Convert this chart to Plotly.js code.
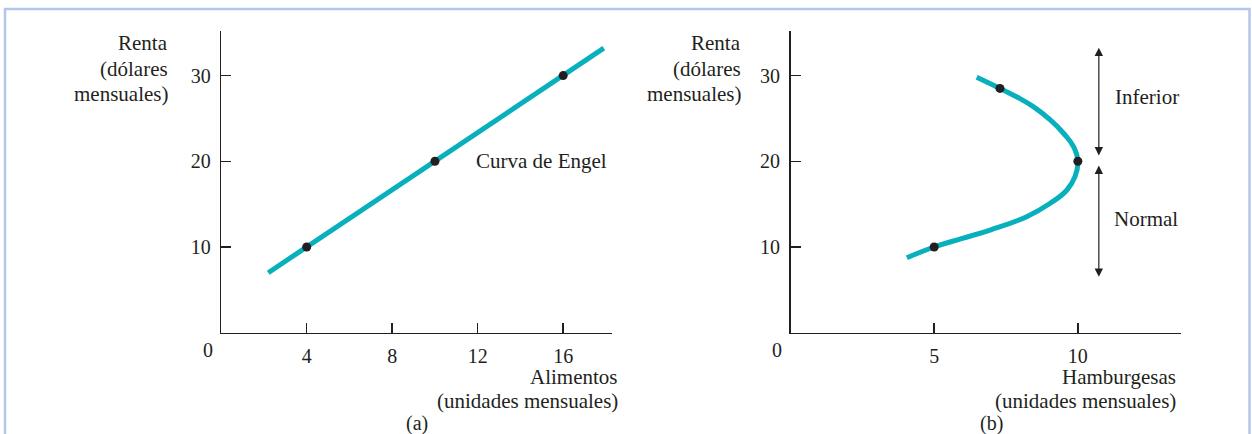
<!DOCTYPE html>
<html>
<head>
<meta charset="utf-8">
<script src="https://cdn.plot.ly/plotly-3.0.1.min.js"></script>
<style>
  body { margin: 0; background: #fff; }
  #myDiv { width: 1252px; height: 434px; }
</style>
</head>
<body>
<div id="myDiv"></div>
<script>
// (a) Curva de Engel - alimentos
var foodLineX = [2.2, 17.9];
var foodLineY = [7, 33.2];
var foodPtsX = [4, 10, 16];
var foodPtsY = [10, 20, 30];

// (b) hamburguesas (bien inferior a partir de 20)
var burgerX = [4.05, 5.0, 5.98, 6.95, 8.22, 9.04, 9.62, 9.9, 10.0, 9.85, 9.5, 9.04, 8.45, 7.88, 7.29, 6.48];
var burgerY = [8.75, 10.0, 11.0, 11.98, 13.54, 15.1, 16.65, 18.2, 20.0, 21.7, 23.27, 24.82, 26.37, 27.5, 28.5, 29.8];
var burgerPtsX = [5, 10, 7.29];
var burgerPtsY = [10, 20, 28.5];

var foodTicks = [4, 8, 12, 16];
var burgerTicks = [5, 10];
var rentTicks = [10, 20, 30];

var rentTitle = ['Renta', '(dólares', 'mensuales)'];
var foodTitle = ['Alimentos', '(unidades mensuales)'];
var burgerTitle = ['Hamburgesas', '(unidades mensuales)'];

var teal = '#07b0bc';
var ink = '#231f20';
var serif = 'Liberation Serif, Times New Roman, serif';

var trace1 = {
  x: foodLineX, y: foodLineY,
  mode: 'lines', line: {color: teal, width: 5},
  xaxis: 'x', yaxis: 'y', hoverinfo: 'skip'
};
var trace2 = {
  x: foodPtsX, y: foodPtsY,
  mode: 'markers', marker: {color: ink, size: 9},
  xaxis: 'x', yaxis: 'y'
};
var trace3 = {
  x: burgerX, y: burgerY,
  mode: 'lines', line: {color: teal, width: 5, shape: 'spline', smoothing: 1.3},
  xaxis: 'x2', yaxis: 'y2', hoverinfo: 'skip'
};
var trace4 = {
  x: burgerPtsX, y: burgerPtsY,
  mode: 'markers', marker: {color: ink, size: 9},
  xaxis: 'x2', yaxis: 'y2'
};

var data = [trace1, trace2, trace3, trace4];

function axis(domain, range, ticks, anchor) {
  return {
    domain: domain,
    range: range,
    anchor: anchor,
    tickmode: 'array',
    tickvals: ticks,
    ticks: 'inside',
    ticklen: 10,
    tickwidth: 1.5,
    tickcolor: ink,
    showline: true,
    linecolor: ink,
    linewidth: 1.5,
    showgrid: false,
    zeroline: false,
    ticklabelstandoff: 5,
    tickfont: {family: serif, size: 20, color: ink}
  };
}

var ydom = [0.2334, 0.9286];

function label(text, x, y, xref, yref, xanchor, size) {
  return {
    text: text, x: x, y: y, xref: xref, yref: yref,
    xanchor: xanchor || 'left', yanchor: 'middle', align: xanchor || 'left',
    showarrow: false,
    font: {family: serif, size: size || 21, color: ink}
  };
}

// multi-line titles, one annotation per line (tighter line spacing)
function stacked(lines, xpx, ypxs) {
  return lines.map(function (t, i) {
    return label(t, xpx / 1252, 1 - ypxs[i] / 434, 'paper', 'paper', 'right');
  });
}

var annotations = []
  .concat(stacked(rentTitle, 169.5, [43, 69, 94]))
  .concat(stacked(foodTitle, 620, [377, 401]))
  .concat(stacked(rentTitle, 742.5, [43, 69, 94]))
  .concat(stacked(burgerTitle, 1178, [377, 401]))
  .concat([
    label('0', 207.5 / 1252, 1 - 350 / 434, 'paper', 'paper', 'center', 20),
    label('(a)', 417 / 1252, 1 - 423 / 434, 'paper', 'paper', 'center', 20),
    label('Curva de Engel', 11.84, 20, 'x', 'y', 'left'),
    label('0', 776.5 / 1252, 1 - 350 / 434, 'paper', 'paper', 'center', 20),
    label('(b)', 991 / 1252, 1 - 423 / 434, 'paper', 'paper', 'center', 20),
    label('Inferior', 11.22, 27.5, 'x2', 'y2', 'left'),
    label('Normal', 11.2, 13.3, 'x2', 'y2', 'left'),
    {x: 10.73, y: 33.25, ax: 10.73, ay: 20.5, xref: 'x2', yref: 'y2', axref: 'x2', ayref: 'y2',
     text: '', showarrow: true, arrowside: 'end+start', arrowhead: 2, arrowsize: 1.4,
     arrowwidth: 1.2, arrowcolor: ink, standoff: 0, startstandoff: 0},
    {x: 10.73, y: 19.5, ax: 10.73, ay: 6.35, xref: 'x2', yref: 'y2', axref: 'x2', ayref: 'y2',
     text: '', showarrow: true, arrowside: 'end+start', arrowhead: 2, arrowsize: 1.4,
     arrowwidth: 1.2, arrowcolor: ink, standoff: 0, startstandoff: 0}
  ]);

var layout = {
  width: 1252,
  height: 434,
  margin: {l: 0, r: 0, t: 0, b: 0},
  paper_bgcolor: '#ffffff',
  plot_bgcolor: 'rgba(0,0,0,0)',
  showlegend: false,
  xaxis: axis([221.2 / 1252, 611.7 / 1252], [0, 18.27], foodTicks, 'y'),
  yaxis: axis(ydom, [0, 35.2], rentTicks, 'x'),
  xaxis2: axis([790.5 / 1252, 1181.3 / 1252], [0, 13.6], burgerTicks, 'y2'),
  yaxis2: axis(ydom, [0, 35.2], rentTicks, 'x2'),
  annotations: annotations,
  shapes: [{
    type: 'rect', xref: 'paper', yref: 'paper',
    x0: 5 / 1252, x1: 1249.5 / 1252, y0: -0.1, y1: 1 - 9 / 434,
    line: {color: '#b4c6ea', width: 2.5}
  }]
};

Plotly.newPlot('myDiv', data, layout, {displayModeBar: false, staticPlot: true});
</script>
</body>
</html>
